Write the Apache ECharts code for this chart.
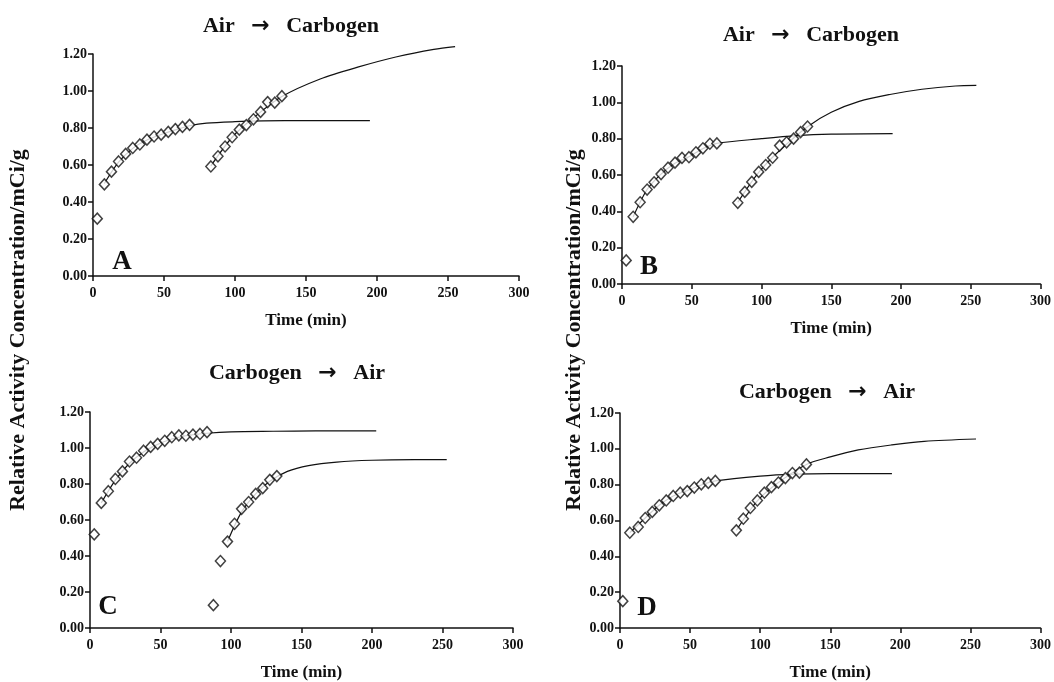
<!DOCTYPE html>
<html>
<head>
<meta charset="utf-8">
<script src="https://cdn.jsdelivr.net/npm/echarts@6/dist/echarts.min.js"></script>
<style>
html,body{margin:0;padding:0;background:#fff;}
#chart{width:1054px;height:682px;}
</style>
</head>
<body>
<div id="chart"></div>
<script>
// ---------- DATA ----------
const panelTitleFrom = ['Air', 'Air', 'Carbogen', 'Carbogen'];
const panelTitleTo = ['Carbogen', 'Carbogen', 'Air', 'Air'];
const panelLetters = ['A', 'B', 'C', 'D'];
const yAxisTitle = 'Relative Activity Concentration/mCi/g';
const xAxisTitle = 'Time (min)';

// Panel A
const aT1 = [3, 8, 13, 18, 23, 28, 33, 38, 43, 48, 53, 58, 63, 68];
const aV1 = [0.31, 0.495, 0.564, 0.619, 0.66, 0.692, 0.711, 0.737, 0.754, 0.764, 0.779, 0.794, 0.806, 0.817];
const aT2 = [83, 88, 93, 98, 103, 108, 113, 118, 123, 128, 133];
const aV2 = [0.592, 0.647, 0.70, 0.75, 0.791, 0.816, 0.847, 0.887, 0.94, 0.937, 0.972];
const aFitT1 = [8, 18, 28, 38, 48, 58, 68, 80, 100, 120, 150, 195];
const aFitV1 = [0.50, 0.615, 0.69, 0.735, 0.765, 0.79, 0.812, 0.826, 0.834, 0.838, 0.84, 0.84];
const aFitT2 = [83, 98, 113, 133, 160, 187, 214, 240, 255];
const aFitV2 = [0.595, 0.75, 0.855, 0.97, 1.065, 1.13, 1.185, 1.225, 1.24];

// Panel B
const bT1 = [3, 8, 13, 18, 23, 28, 33, 38, 43, 48, 53, 58, 63, 68];
const bV1 = [0.13, 0.37, 0.45, 0.52, 0.56, 0.605, 0.64, 0.668, 0.694, 0.698, 0.725, 0.747, 0.772, 0.774];
const bT2 = [83, 88, 93, 98, 103, 108, 113, 118, 123, 128, 133];
const bV2 = [0.447, 0.507, 0.562, 0.617, 0.655, 0.695, 0.762, 0.78, 0.80, 0.836, 0.867];
const bFitT1 = [8, 18, 28, 38, 48, 58, 68, 100, 125, 150, 194];
const bFitV1 = [0.37, 0.52, 0.605, 0.665, 0.70, 0.745, 0.774, 0.80, 0.817, 0.825, 0.828];
const bFitT2 = [83, 98, 113, 133, 150, 170, 192, 215, 239, 254];
const bFitV2 = [0.45, 0.615, 0.735, 0.866, 0.945, 1.005, 1.043, 1.072, 1.09, 1.093];

// Panel C
const cT1 = [3, 8, 13, 18, 23, 28, 33, 38, 43, 48, 53, 58, 63, 68, 73, 78, 83];
const cV1 = [0.52, 0.695, 0.76, 0.828, 0.87, 0.925, 0.946, 0.985, 1.006, 1.023, 1.04, 1.06, 1.07, 1.068, 1.074, 1.078, 1.088];
const cT2 = [87.5, 92.5, 97.5, 102.5, 107.5, 112.5, 117.5, 122.5, 127.5, 132.5];
const cV2 = [0.127, 0.372, 0.48, 0.579, 0.662, 0.70, 0.745, 0.777, 0.823, 0.844];
const cFitT1 = [8, 18, 28, 38, 48, 58, 68, 83, 100, 130, 160, 203];
const cFitV1 = [0.695, 0.822, 0.915, 0.978, 1.02, 1.05, 1.068, 1.082, 1.09, 1.093, 1.095, 1.095];
const cFitT2 = [97.5, 107.5, 117.5, 127.5, 140, 155, 175, 200, 230, 253];
const cFitV2 = [0.48, 0.645, 0.745, 0.815, 0.87, 0.902, 0.922, 0.932, 0.935, 0.935];

// Panel D
const dT1 = [2, 7, 13, 18, 23, 28, 33, 38, 43, 48, 53, 58, 63, 68];
const dV1 = [0.15, 0.532, 0.564, 0.614, 0.648, 0.685, 0.712, 0.737, 0.755, 0.764, 0.784, 0.802, 0.81, 0.821];
const dT2 = [83, 88, 93, 98, 103, 108, 113, 118, 123, 128, 133];
const dV2 = [0.545, 0.61, 0.67, 0.712, 0.755, 0.786, 0.812, 0.837, 0.865, 0.867, 0.913];
const dFitT1 = [7, 18, 28, 38, 48, 58, 68, 100, 125, 150, 194];
const dFitV1 = [0.532, 0.614, 0.685, 0.737, 0.767, 0.798, 0.821, 0.848, 0.859, 0.862, 0.862];
const dFitT2 = [83, 98, 113, 133, 150, 170, 194, 217, 254];
const dFitV2 = [0.545, 0.71, 0.812, 0.913, 0.955, 0.994, 1.022, 1.042, 1.055];

// ---------- LAYOUT ----------
const FONT = '"Liberation Serif", "Times New Roman", serif';
const grids = [
  {left: 93, top: 54, width: 426, height: 222},
  {left: 622, top: 66, width: 425, height: 218},
  {left: 90, top: 412, width: 423, height: 216},
  {left: 620, top: 413, width: 423, height: 218}
];
const titlePos = [[291, 26], [811, 35], [297, 373], [827, 392]];
const letterPos = [[122, 262], [649, 267], [108, 607], [647, 608]];

const panels = [
  {t1: aT1, v1: aV1, t2: aT2, v2: aV2, ft1: aFitT1, fv1: aFitV1, ft2: aFitT2, fv2: aFitV2},
  {t1: bT1, v1: bV1, t2: bT2, v2: bV2, ft1: bFitT1, fv1: bFitV1, ft2: bFitT2, fv2: bFitV2},
  {t1: cT1, v1: cV1, t2: cT2, v2: cV2, ft1: cFitT1, fv1: cFitV1, ft2: cFitT2, fv2: cFitV2},
  {t1: dT1, v1: dV1, t2: dT2, v2: dV2, ft1: dFitT1, fv1: dFitV1, ft2: dFitT2, fv2: dFitV2}
];

const zip = (a, b) => a.map((x, i) => [x, b[i]]);

const axisLineStyle = {color: '#111', width: 1.5};
const xAxes = grids.map((g, i) => ({
  type: 'value', gridIndex: i, min: 0, max: 300, interval: 50,
  axisLine: {show: true, onZero: false, lineStyle: axisLineStyle},
  axisTick: {show: true, inside: false, length: 5, lineStyle: axisLineStyle},
  splitLine: {show: false},
  axisLabel: {color: '#111', fontFamily: FONT, fontWeight: 'bold', fontSize: 14, margin: 10},
  name: xAxisTitle, nameLocation: 'middle', nameGap: 36,
  nameTextStyle: {color: '#111', fontFamily: FONT, fontWeight: 'bold', fontSize: 17}
}));
const yAxes = grids.map((g, i) => ({
  type: 'value', gridIndex: i, min: 0, max: 1.2, interval: 0.2,
  axisLine: {show: true, lineStyle: axisLineStyle},
  axisTick: {show: true, inside: false, length: 5, lineStyle: axisLineStyle},
  splitLine: {show: false},
  axisLabel: {color: '#111', fontFamily: FONT, fontWeight: 'bold', fontSize: 14, margin: 6,
    formatter: v => v.toFixed(2)}
}));

const series = [];
panels.forEach((p, i) => {
  [[p.ft1, p.fv1], [p.ft2, p.fv2]].forEach(([t, v]) => {
    series.push({
      type: 'line', xAxisIndex: i, yAxisIndex: i, data: zip(t, v),
      showSymbol: false, symbol: 'none', smooth: 0.3, clip: false,
      lineStyle: {color: '#111', width: 1.2}, z: 2, silent: true
    });
  });
  [[p.t1, p.v1], [p.t2, p.v2]].forEach(([t, v]) => {
    series.push({
      type: 'scatter', xAxisIndex: i, yAxisIndex: i, data: zip(t, v),
      symbol: 'diamond', symbolSize: [10, 11], clip: false,
      itemStyle: {color: '#fff', borderColor: '#111', borderWidth: 1.5}, z: 3, silent: true
    });
  });
});

const graphic = [];
panelTitleFrom.forEach((t, i) => {
  graphic.push({type: 'text', x: titlePos[i][0], y: titlePos[i][1],
    style: {
      text: '{w|' + t + '}{s|   }{ar|\u2192}{s|   }{w|' + panelTitleTo[i] + '}',
      textAlign: 'center', textVerticalAlign: 'middle',
      rich: {
        w: {fontFamily: FONT, fontWeight: 'bold', fontSize: 22, fill: '#111', color: '#111'},
        s: {fontFamily: FONT, fontSize: 22},
        ar: {fontFamily: '"DejaVu Sans"', fontWeight: 'bold', fontSize: 22, fill: '#111', color: '#111'}
      }
    }});
});
panelLetters.forEach((t, i) => {
  graphic.push({type: 'text', x: letterPos[i][0], y: letterPos[i][1],
    style: {text: t, fill: '#111', font: 'bold 27px ' + FONT, textAlign: 'center', textVerticalAlign: 'middle'}});
});
[[18, 330], [574, 330]].forEach(([x, y]) => {
  graphic.push({type: 'text', x: x, y: y, rotation: Math.PI / 2,
    style: {text: yAxisTitle, fill: '#111', font: 'bold 22px ' + FONT, textAlign: 'center', textVerticalAlign: 'middle'}});
});

const chart = echarts.init(document.getElementById('chart'), null, {renderer: 'canvas'});
chart.setOption({
  backgroundColor: '#fff',
  animation: false,
  grid: grids.map(g => Object.assign({containLabel: false}, g)),
  xAxis: xAxes,
  yAxis: yAxes,
  series: series,
  graphic: graphic
});
</script>
</body>
</html>
